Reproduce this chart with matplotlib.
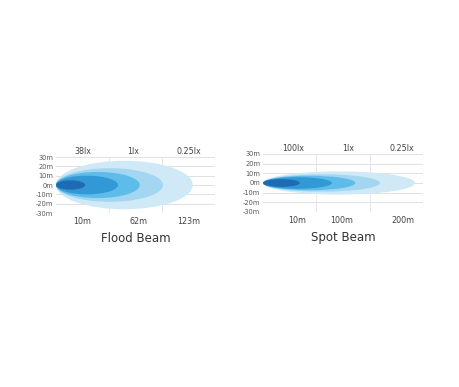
import matplotlib.pyplot as plt
from matplotlib.patches import Ellipse

# beam layers: reach (in grid divisions from the lamp) and half width in metres
flood_reach = [2.58, 2.02, 1.58, 1.17, 0.55]
flood_half = [26, 18, 14, 10, 5]
spot_reach = [2.85, 2.19, 1.73, 1.29, 0.69]
spot_half = [12, 9, 7.5, 6, 4]
layer_colors = ["#cfe9f7", "#a3d6f1", "#5dbce9", "#3398d6", "#1f6bb3"]

y_ticks = [30, 20, 10, 0, -10, -20, -30]
y_labels = ["30m", "20m", "10m", "0m", "-10m", "-20m", "-30m"]

flood_top_pos = [0.5, 1.45, 2.5]
flood_top = ["38lx", "1lx", "0.25lx"]
flood_bot_pos = [0.5, 1.55, 2.5]
flood_bot = ["10m", "62m", "123m"]
spot_top_pos = [0.57, 1.6, 2.6]
spot_top = ["100lx", "1lx", "0.25lx"]
spot_bot_pos = [0.64, 1.48, 2.62]
spot_bot = ["10m", "100m", "200m"]

fig = plt.figure(figsize=(4.6, 3.87), dpi=100)


def beam(rect, reach, half, top_pos, top, bot_pos, bot, title):
    ax = fig.add_axes(rect)
    for r, h, c in zip(reach, half, layer_colors):
        ax.add_patch(Ellipse((r / 2, 0), r, 2 * h, facecolor=c, edgecolor="none", zorder=2))
    ax.set_xlim(0, 3)
    ax.set_ylim(-30, 30)
    for y in y_ticks:
        ax.axhline(y, color="#dcdcdc", lw=0.6, zorder=1)
    for x in [1, 2, 3]:
        ax.axvline(x, color="#e4e4e4", lw=0.6, zorder=1)
    for s in ax.spines.values():
        s.set_visible(False)
    ax.set_yticks(y_ticks)
    ax.set_yticklabels(y_labels, fontsize=4.8, color="#555555")
    ax.tick_params(axis="y", length=0, pad=2)
    ax.set_xticks(bot_pos)
    ax.set_xticklabels(bot, fontsize=5.8, color="#444444")
    ax.tick_params(axis="x", length=0, pad=3)
    for p, t in zip(top_pos, top):
        ax.text(p, 31, t, fontsize=5.8, color="#444444", ha="center", va="bottom")
    ax.set_xlabel(title, fontsize=8.5, color="#333333", labelpad=4)
    return ax


beam([0.1217, 0.4496, 0.3457, 0.1447], flood_reach, flood_half,
     flood_top_pos, flood_top, flood_bot_pos, flood_bot, "Flood Beam")
beam([0.5717, 0.4522, 0.3480, 0.1499], spot_reach, spot_half,
     spot_top_pos, spot_top, spot_bot_pos, spot_bot, "Spot Beam")

fig.savefig("out.png", dpi=100)
